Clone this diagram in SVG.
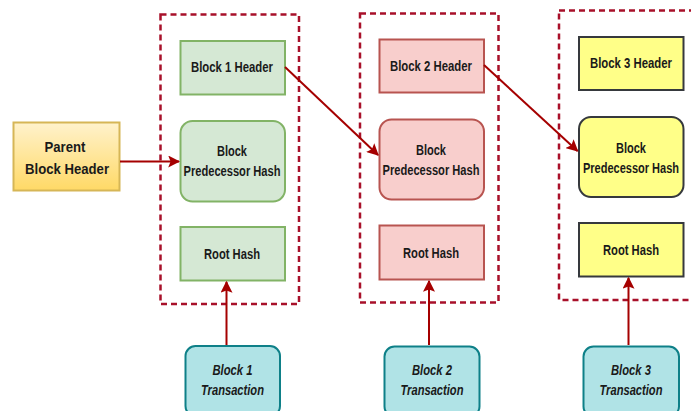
<svg xmlns="http://www.w3.org/2000/svg" width="691" height="411" viewBox="0 0 691 411">
<defs>
<linearGradient id="gp" x1="0" y1="0" x2="0" y2="1"><stop offset="0" stop-color="#fff2cc"/><stop offset="1" stop-color="#ffd966"/></linearGradient>
<marker id="ah" viewBox="0 0 10 10" refX="9" refY="5" markerWidth="6" markerHeight="6" orient="auto" markerUnits="strokeWidth"><path d="M0,0 L10,5 L0,10 L2,5 Z" fill="#a50000"/></marker>
</defs>
<style>
text{font-family:"Liberation Sans",Arial,sans-serif;font-weight:bold;font-size:14px;fill:#1a1a1a;text-anchor:middle}
.it{font-style:italic}
.grp{fill:none;stroke:#a8102a;stroke-width:2.5;stroke-dasharray:6 4}
.g{fill:#d5e8d4;stroke:#82b366;stroke-width:2}
.r{fill:#f8cecc;stroke:#b85450;stroke-width:2}
.y{fill:#ffff88;stroke:#36393d;stroke-width:2}
.t{fill:#b0e3e6;stroke:#0e8088;stroke-width:2}
.p{fill:url(#gp);stroke:#d6b656;stroke-width:2}
.c{fill:none;stroke:#a50000;stroke-width:2;marker-end:url(#ah)}
</style>
<g id="containers">
<rect class="grp" x="160.5" y="14.5" width="138.5" height="289.5"/>
<rect class="grp" x="360" y="13.5" width="138.5" height="289"/>
<rect class="grp" x="559" y="10.5" width="145" height="289.5"/>
</g>
<g id="parent"><rect class="p" x="13.5" y="122.5" width="106" height="68"/><text x="65" y="151.5" textLength="41" lengthAdjust="spacingAndGlyphs">Parent</text><text x="67" y="174" textLength="84" lengthAdjust="spacingAndGlyphs">Block Header</text></g>
<g id="b1h"><rect class="g" x="180.5" y="41" width="104.5" height="53.5"/><text x="232" y="72" textLength="82" lengthAdjust="spacingAndGlyphs">Block 1 Header</text></g>
<g id="b1p"><rect class="g" x="180.5" y="121" width="104.5" height="80.5" rx="12"/><text x="232" y="155.5" textLength="30" lengthAdjust="spacingAndGlyphs">Block</text><text x="232" y="175.5" textLength="97" lengthAdjust="spacingAndGlyphs">Predecessor Hash</text></g>
<g id="b1r"><rect class="g" x="180.5" y="227" width="104.5" height="53.5"/><text x="232" y="259" textLength="56" lengthAdjust="spacingAndGlyphs">Root Hash</text></g>
<g id="b1t"><rect class="t" x="185.5" y="346" width="94.5" height="70" rx="10"/><text class="it" x="232.5" y="375" textLength="40" lengthAdjust="spacingAndGlyphs">Block 1</text><text class="it" x="232.5" y="395" textLength="63" lengthAdjust="spacingAndGlyphs">Transaction</text></g>
<g id="b2h"><rect class="r" x="379.5" y="39.5" width="104.5" height="53"/><text x="431" y="71" textLength="82" lengthAdjust="spacingAndGlyphs">Block 2 Header</text></g>
<g id="b2p"><rect class="r" x="379.5" y="119.5" width="104.5" height="80" rx="12"/><text x="431" y="155" textLength="30" lengthAdjust="spacingAndGlyphs">Block</text><text x="431" y="175" textLength="97" lengthAdjust="spacingAndGlyphs">Predecessor Hash</text></g>
<g id="b2r"><rect class="r" x="379.5" y="225.5" width="104.5" height="54"/><text x="431" y="257.5" textLength="56" lengthAdjust="spacingAndGlyphs">Root Hash</text></g>
<g id="b2t"><rect class="t" x="384.5" y="346.5" width="95" height="70" rx="10"/><text class="it" x="432" y="375" textLength="40" lengthAdjust="spacingAndGlyphs">Block 2</text><text class="it" x="432" y="395" textLength="63" lengthAdjust="spacingAndGlyphs">Transaction</text></g>
<g id="b3h"><rect class="y" x="579" y="37" width="104.5" height="53"/><text x="631" y="68" textLength="82" lengthAdjust="spacingAndGlyphs">Block 3 Header</text></g>
<g id="b3p"><rect class="y" x="579" y="117" width="104.5" height="80" rx="12"/><text x="631" y="152.5" textLength="30" lengthAdjust="spacingAndGlyphs">Block</text><text x="631" y="172.5" textLength="96" lengthAdjust="spacingAndGlyphs">Predecessor Hash</text></g>
<g id="b3r"><rect class="y" x="579" y="223" width="104.5" height="53.5"/><text x="631" y="254.5" textLength="56" lengthAdjust="spacingAndGlyphs">Root Hash</text></g>
<g id="b3t"><rect class="t" x="583.5" y="346.5" width="95.5" height="70" rx="10"/><text class="it" x="631" y="375" textLength="40" lengthAdjust="spacingAndGlyphs">Block 3</text><text class="it" x="631" y="395" textLength="63" lengthAdjust="spacingAndGlyphs">Transaction</text></g>
<g id="connectors">
<line class="c" x1="120" y1="161.5" x2="179" y2="161.5"/>
<line class="c" x1="285" y1="67" x2="378" y2="155"/>
<line class="c" x1="484" y1="65" x2="577.5" y2="151"/>
<line class="c" x1="226.5" y1="345" x2="226.5" y2="282"/>
<line class="c" x1="429" y1="345" x2="429" y2="281"/>
<line class="c" x1="628.5" y1="345" x2="628.5" y2="278"/>
</g>
</svg>
